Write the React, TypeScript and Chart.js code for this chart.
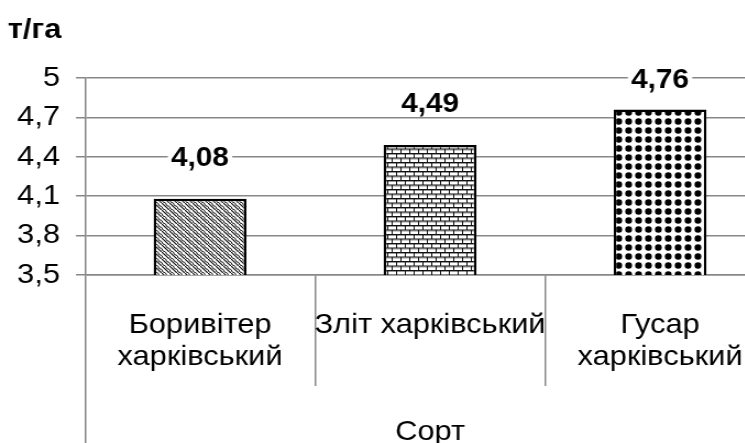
import React, { useEffect, useRef } from "react";
import { Chart, registerables } from "chart.js";

Chart.register(...registerables);

// Yield by variety, t/ha
const categories: (string | string[])[] = [
  ["Боривітер", "харківський"],
  "Зліт харківський",
  ["Гусар", "харківський"],
];
const yields = [4.08, 4.49, 4.76];
const yTickValues = [3.5, 3.8, 4.1, 4.4, 4.7, 5];
const yTickLabels = ["3,5", "3,8", "4,1", "4,4", "4,7", "5"];
const groupLabels = ["Сорт"];
const unitLabel = "т/га";

const FONT = '"Liberation Sans", Arial, Helvetica, sans-serif';
const GRID = "#878787";
const STRETCH = 1.1;
const W = 720;
const H = 443;

function tile(
  ctx: CanvasRenderingContext2D,
  w: number,
  h: number,
  draw: (g: CanvasRenderingContext2D) => void
): CanvasPattern {
  const c = document.createElement("canvas");
  c.width = w;
  c.height = h;
  const g = c.getContext("2d")!;
  g.fillStyle = "#fff";
  g.fillRect(0, 0, w, h);
  draw(g);
  return ctx.createPattern(c, "repeat")!;
}

// diagonal shingle texture
function shingle(ctx: CanvasRenderingContext2D) {
  return tile(ctx, 7, 7, (g) => {
    g.strokeStyle = "#111";
    g.lineWidth = 1.2;
    g.beginPath();
    g.moveTo(-1, -1);
    g.lineTo(8, 8);
    g.stroke();
    g.lineWidth = 1;
    g.beginPath();
    g.moveTo(0, 3.5);
    g.quadraticCurveTo(0.5, 6.8, 3.5, 7);
    g.moveTo(3.5, 0);
    g.quadraticCurveTo(4, 3.3, 7, 3.5);
    g.stroke();
  });
}

// horizontal brick texture
function bricks(ctx: CanvasRenderingContext2D) {
  return tile(ctx, 8, 9, (g) => {
    g.fillStyle = "#9a9a9a";
    g.fillRect(0, 1, 8, 1);
    g.fillRect(0, 5.5, 8, 1);
    g.strokeStyle = "#111";
    g.lineWidth = 1;
    g.beginPath();
    g.moveTo(0, 0.5);
    g.lineTo(8, 0.5);
    g.moveTo(0, 5);
    g.lineTo(8, 5);
    g.moveTo(0.5, 0);
    g.lineTo(0.5, 5);
    g.moveTo(4.5, 5);
    g.lineTo(4.5, 9);
    g.stroke();
  });
}

// large dot texture
function dots(ctx: CanvasRenderingContext2D) {
  return tile(ctx, 9, 9, (g) => {
    g.fillStyle = "#000";
    g.beginPath();
    g.ellipse(4.5, 4.5, 3.1, 3.3, 0, 0, Math.PI * 2);
    g.fill();
  });
}

const valueLabels = {
  id: "valueLabels",
  afterDatasetsDraw(chart: any) {
    const { ctx, chartArea } = chart;
    const meta = chart.getDatasetMeta(0);
    ctx.save();
    ctx.font = `bold 27px ${FONT}`;
    ctx.textAlign = "center";
    ctx.textBaseline = "middle";
    meta.data.forEach((bar: any, i: number) => {
      const text = yields[i].toFixed(2).replace(".", ",");
      const y = Math.max(bar.y - 41, chartArea.top + 2);
      const w = ctx.measureText(text).width;
      ctx.fillStyle = "#fff";
      ctx.fillRect(bar.x - w / 2 - 3, y - 12, w + 6, 25);
      ctx.fillStyle = "#000";
      ctx.fillText(text, bar.x, y + 1);
    });
    ctx.font = `bold 28px ${FONT}`;
    ctx.textAlign = "left";
    ctx.textBaseline = "alphabetic";
    ctx.fillStyle = "#000";
    ctx.fillText(unitLabel, 7, 38);
    ctx.restore();
  },
};

export default function App() {
  const ref = useRef<HTMLCanvasElement>(null);

  useEffect(() => {
    const canvas = ref.current!;
    const ctx = canvas.getContext("2d")!;
    const fills = [shingle(ctx), bricks(ctx), dots(ctx)];

    const chart = new Chart(canvas, {
      type: "bar",
      data: {
        labels: categories,
        datasets: [
          {
            data: yields,
            backgroundColor: fills,
            borderColor: "#000",
            borderWidth: 2.5,
            borderSkipped: false,
            barPercentage: 0.404,
            categoryPercentage: 1,
          },
        ],
      },
      options: {
        responsive: false,
        animation: false,
        devicePixelRatio: 1,
        layout: { padding: { top: 78, left: 0, right: 15.4, bottom: 0 } },
        plugins: {
          legend: { display: false },
          tooltip: { enabled: false },
          title: { display: false },
        },
        scales: {
          y: {
            min: 3.5,
            max: 5,
            afterBuildTicks: (s: any) => {
              s.ticks = yTickValues.map((v) => ({ value: v }));
            },
            afterFit: (s: any) => {
              s.width = 77.3;
            },
            grid: { color: GRID, lineWidth: 1.5, tickLength: 8.2 },
            border: { color: GRID, width: 1.5 },
            ticks: {
              padding: 14.6,
              color: "#000",
              font: { family: FONT, size: 28 },
              callback: (_v: any, i: number) => yTickLabels[i],
            },
          },
          x: {
            offset: true,
            afterFit: (s: any) => {
              s.height = 111;
            },
            grid: {
              offset: true,
              drawOnChartArea: false,
              drawTicks: true,
              tickLength: 111,
              color: GRID,
              lineWidth: 1.5,
            },
            border: { color: GRID, width: 1.5 },
            ticks: {
              padding: -77,
              color: "#000",
              maxRotation: 0,
              minRotation: 0,
              autoSkip: false,
              font: { family: FONT, size: 28, lineHeight: 1.15 },
            },
          },
          x2: {
            type: "category",
            position: "bottom",
            labels: groupLabels,
            offset: true,
            afterFit: (s: any) => {
              s.height = 57;
            },
            grid: {
              offset: true,
              drawOnChartArea: false,
              drawTicks: true,
              tickLength: 57,
              color: GRID,
              lineWidth: 1.5,
            },
            border: { display: false },
            ticks: {
              padding: -27,
              color: "#000",
              maxRotation: 0,
              font: { family: FONT, size: 28, lineHeight: 1.15 },
            },
          },
        },
      } as any,
      plugins: [valueLabels],
    });

    return () => chart.destroy();
  }, []);

  return (
    <div
      style={{
        position: "fixed",
        left: 0,
        top: 0,
        width: 745,
        height: 443,
        overflow: "hidden",
        background: "#fff",
      }}
    >
      <div
        style={{
          width: W,
          height: H,
          transform: `scaleX(${STRETCH})`,
          transformOrigin: "0 0",
        }}
      >
        <canvas ref={ref} width={W} height={H} style={{ display: "block" }} />
      </div>
    </div>
  );
}
